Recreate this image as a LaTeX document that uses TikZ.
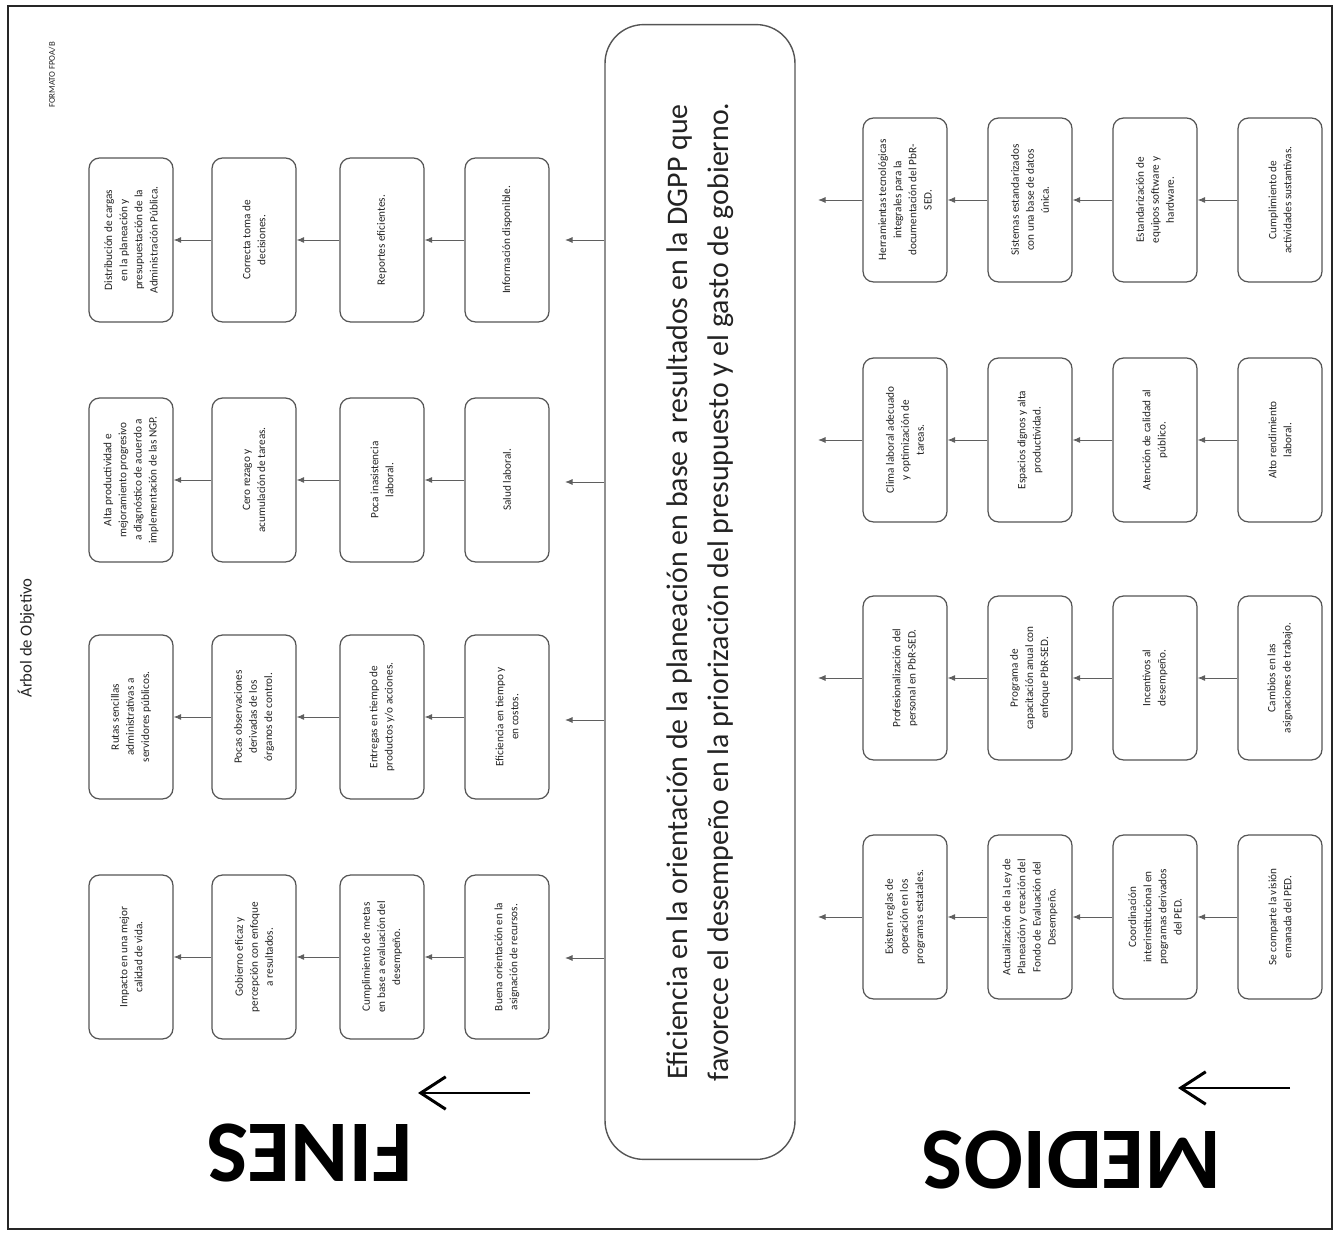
\documentclass[tikz,border=0pt]{standalone}
\usepackage{fontspec}
\setmainfont{Carlito}
\usepackage{tikz}
\usetikzlibrary{arrows.meta}
\definecolor{treeline}{RGB}{85,85,85}
\definecolor{treetext}{RGB}{35,35,35}
\definecolor{treelink}{RGB}{95,95,95}
\tikzset{
  treebox/.style={
    rectangle, rounded corners=6pt, draw=treeline, line width=0.7pt,
    fill=white, rotate=90, minimum width=3.28cm, minimum height=1.68cm,
    align=center, text=treetext, inner sep=2pt,
    font=\fontsize{6.4}{8.6}\selectfont
  },
  centralbox/.style={
    rectangle, rounded corners=22pt, draw=treeline, line width=0.8pt,
    fill=white, rotate=90, minimum width=22.7cm, minimum height=3.8cm,
    align=center, text=treetext, font=\fontsize{17}{23}\selectfont
  },
  bigword/.style={rotate=180, text=black, font=\fontsize{50}{50}\selectfont\bfseries},
  headtext/.style={rotate=90, text=treetext},
  link/.style={-{Latex[length=1.5mm, width=1.2mm]}, line width=0.5pt, draw=treelink},
  bigarrow/.style={-{Straight Barb[length=5mm, width=6.5mm]}, line width=1.7pt, draw=black}
}
\begin{document}
\begin{tikzpicture}[x=0.02cm, y=-0.02cm]
\useasboundingbox (0,0) rectangle (1340,1236);
\draw[line width=1.2pt, draw=black!85] (8,6) rectangle (1332,1229);

% Header
\node[headtext, font=\fontsize{9.5}{9.5}\selectfont] (title) at (26,638) {Árbol de Objetivo};
\node[headtext, font=\fontsize{5}{5}\selectfont] (formato) at (52,75) {FORMATO FPOA/B};

% Central objective
\node[centralbox] (cbox) at (700,592) {Eficiencia en la orientación de la planeación en base a resultados en la DGPP que\\favorece el desempeño en la priorización del presupuesto y el gasto de gobierno.};

% Fines row 1
\node[treebox] (f11) at (131,240) {Distribución de cargas\\en la planeación y\\presupuestación de la\\Administración Pública.};
\node[treebox] (f12) at (254,240) {Correcta toma de\\decisiones.};
\node[treebox] (f13) at (382,240) {Reportes eficientes.};
\node[treebox] (f14) at (507,240) {Información disponible.};

% Fines row 2
\node[treebox] (f21) at (131,480) {Alta productividad e\\mejoramiento progresivo\\a diagnóstico de acuerdo a\\implementación de las NGP.};
\node[treebox] (f22) at (254,480) {Cero rezago y\\acumulación de tareas.};
\node[treebox] (f23) at (382,480) {Poca inasistencia\\laboral.};
\node[treebox] (f24) at (507,480) {Salud laboral.};

% Fines row 3
\node[treebox] (f31) at (131,717) {Rutas sencillas\\administrativas a\\servidores públicos.};
\node[treebox] (f32) at (254,717) {Pocas observaciones\\derivadas de los\\órganos de control.};
\node[treebox] (f33) at (382,717) {Entregas en tiempo de\\productos y/o acciones.};
\node[treebox] (f34) at (507,717) {Eficiencia en tiempo y\\en costos.};

% Fines row 4
\node[treebox] (f41) at (131,957) {Impacto en una mejor\\calidad de vida.};
\node[treebox] (f42) at (254,957) {Gobierno eficaz y\\percepción con enfoque\\a resultados.};
\node[treebox] (f43) at (382,957) {Cumplimiento de metas\\en base a evaluación del\\desempeño.};
\node[treebox] (f44) at (507,957) {Buena orientación en la\\asignación de recursos.};

% Medios row 1
\node[treebox] (m11) at (905,200) {Herramientas tecnológicas\\integrales para la\\documentación del PbR-\\SED.};
\node[treebox] (m12) at (1030,200) {Sistemas estandarizados\\con una base de datos\\única.};
\node[treebox] (m13) at (1155,200) {Estandarización de\\equipos software y\\hardware.};
\node[treebox] (m14) at (1280,200) {Cumplimiento de\\actividades sustantivas.};

% Medios row 2
\node[treebox] (m21) at (905,440) {Clima laboral adecuado\\y optimización de\\tareas.};
\node[treebox] (m22) at (1030,440) {Espacios dignos y alta\\productividad.};
\node[treebox] (m23) at (1155,440) {Atención de calidad al\\público.};
\node[treebox] (m24) at (1280,440) {Alto rendimiento\\laboral.};

% Medios row 3
\node[treebox] (m31) at (905,678) {Profesionalización del\\personal en PbR-SED.};
\node[treebox] (m32) at (1030,678) {Programa de\\capacitación anual con\\enfoque PbR-SED.};
\node[treebox] (m33) at (1155,678) {Incentivos al\\desempeño.};
\node[treebox] (m34) at (1280,678) {Cambios en las\\asignaciones de trabajo.};

% Medios row 4
\node[treebox] (m41) at (905,917) {Existen reglas de\\operación en los\\programas estatales.};
\node[treebox] (m42) at (1030,917) {Actualización de la Ley de\\Planeación y creación del\\Fondo de Evaluación del\\Desempeño.};
\node[treebox] (m43) at (1155,917) {Coordinación\\interinstitucional en\\programas derivados\\del PED.};
\node[treebox] (m44) at (1280,917) {Se comparte la visión\\emanada del PED.};

% Arrows inside the rows
\foreach \r in {1,2,3,4}
  \foreach \a/\b in {2/1, 3/2, 4/3} {
    \draw[link] (f\r\a) -- (f\r\b);
    \draw[link] (m\r\a) -- (m\r\b);
  }

% Arrows out of the central box and the medios
\foreach \r/\fy/\my in {1/240/200, 2/482/440, 3/720/678, 4/958/917} {
  \coordinate (fin\r) at (565,\fy);
  \coordinate (med\r) at (818,\my);
  \draw[link] (fin\r -| cbox.north) -- (fin\r);
  \draw[link] (m\r1) -- (med\r);
}

% Big labels
\node[bigword] (fines) at (310,1153) {FINES};
\node[bigword] (medios) at (1072,1160) {MEDIOS};
\coordinate (finA) at (530,1093);
\coordinate (finB) at (418,1093);
\coordinate (medA) at (1290,1088);
\coordinate (medB) at (1178,1088);
\draw[bigarrow] (finA) -- (finB);
\draw[bigarrow] (medA) -- (medB);

\end{tikzpicture}
\end{document}
